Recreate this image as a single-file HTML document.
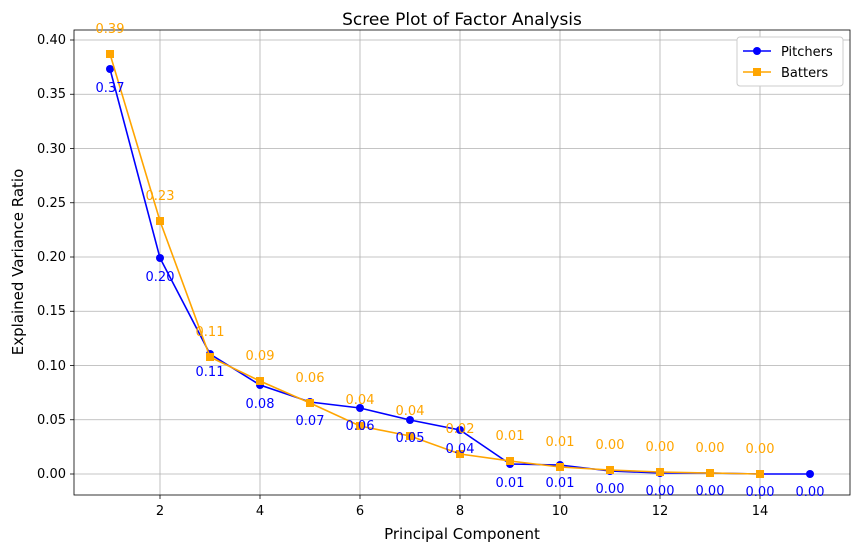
<!DOCTYPE html>
<html><head><meta charset="utf-8"><style>body{margin:0;background:#fff}svg{font-family:"DejaVu Sans","Liberation Sans",sans-serif}</style></head>
<body>
<svg width="859" height="552" xmlns="http://www.w3.org/2000/svg">
<rect width="859" height="552" fill="#fff"/>
<g stroke="#b0b0b0" stroke-width="0.8">
<line x1="160" y1="30" x2="160" y2="495"/><line x1="260" y1="30" x2="260" y2="495"/><line x1="360" y1="30" x2="360" y2="495"/><line x1="460" y1="30" x2="460" y2="495"/><line x1="560" y1="30" x2="560" y2="495"/><line x1="660" y1="30" x2="660" y2="495"/><line x1="760" y1="30" x2="760" y2="495"/>
<line x1="74" y1="474" x2="850" y2="474"/><line x1="74" y1="419.75" x2="850" y2="419.75"/><line x1="74" y1="365.5" x2="850" y2="365.5"/><line x1="74" y1="311.25" x2="850" y2="311.25"/><line x1="74" y1="257" x2="850" y2="257"/><line x1="74" y1="202.75" x2="850" y2="202.75"/><line x1="74" y1="148.5" x2="850" y2="148.5"/><line x1="74" y1="94.25" x2="850" y2="94.25"/><line x1="74" y1="40" x2="850" y2="40"/>
</g>
<rect x="74" y="30" width="776" height="465" fill="none" stroke="#000" stroke-width="0.8"/>
<g stroke="#000" stroke-width="0.8">
<line x1="160" y1="495" x2="160" y2="499"/><line x1="260" y1="495" x2="260" y2="499"/><line x1="360" y1="495" x2="360" y2="499"/><line x1="460" y1="495" x2="460" y2="499"/><line x1="560" y1="495" x2="560" y2="499"/><line x1="660" y1="495" x2="660" y2="499"/><line x1="760" y1="495" x2="760" y2="499"/>
<line x1="70" y1="474" x2="74" y2="474"/><line x1="70" y1="419.75" x2="74" y2="419.75"/><line x1="70" y1="365.5" x2="74" y2="365.5"/><line x1="70" y1="311.25" x2="74" y2="311.25"/><line x1="70" y1="257" x2="74" y2="257"/><line x1="70" y1="202.75" x2="74" y2="202.75"/><line x1="70" y1="148.5" x2="74" y2="148.5"/><line x1="70" y1="94.25" x2="74" y2="94.25"/><line x1="70" y1="40" x2="74" y2="40"/>
</g>
<g font-size="13" fill="#000" text-anchor="middle">
<text x="160" y="515">2</text><text x="260" y="515">4</text><text x="360" y="515">6</text><text x="460" y="515">8</text><text x="560" y="515">10</text><text x="660" y="515">12</text><text x="760" y="515">14</text>
</g>
<g font-size="13" fill="#000" text-anchor="end">
<text x="66" y="478">0.00</text><text x="66" y="424">0.05</text><text x="66" y="370">0.10</text><text x="66" y="315">0.15</text><text x="66" y="261">0.20</text><text x="66" y="207">0.25</text><text x="66" y="153">0.30</text><text x="66" y="98">0.35</text><text x="66" y="44">0.40</text>
</g>
<text x="462" y="25" font-size="17" text-anchor="middle">Scree Plot of Factor Analysis</text>
<text x="462" y="539" font-size="15" text-anchor="middle">Principal Component</text>
<text transform="translate(23,262) rotate(-90)" font-size="15" text-anchor="middle">Explained Variance Ratio</text>
<polyline fill="none" stroke="#0000ff" stroke-width="1.6" points="110,69 160,258 210,354 260,385 310,402 360,408 410,420 460,430 510,464 560,465 610,471 660,473 710,473 760,474 810,474"/>
<g fill="#0000ff"><circle cx="110" cy="69" r="4"/><circle cx="160" cy="258" r="4"/><circle cx="210" cy="354" r="4"/><circle cx="260" cy="385" r="4"/><circle cx="310" cy="402" r="4"/><circle cx="360" cy="408" r="4"/><circle cx="410" cy="420" r="4"/><circle cx="460" cy="430" r="4"/><circle cx="510" cy="464" r="4"/><circle cx="560" cy="465" r="4"/><circle cx="610" cy="471" r="4"/><circle cx="660" cy="473" r="4"/><circle cx="710" cy="473" r="4"/><circle cx="760" cy="474" r="4"/><circle cx="810" cy="474" r="4"/></g>
<polyline fill="none" stroke="#ffa500" stroke-width="1.6" points="110,54 160,221 210,357 260,381 310,403 360,426 410,436 460,454 510,461 560,467 610,470 660,472 710,473 760,474"/>
<g fill="#ffa500"><rect x="106" y="50" width="8" height="8"/><rect x="156" y="217" width="8" height="8"/><rect x="206" y="353" width="8" height="8"/><rect x="256" y="377" width="8" height="8"/><rect x="306" y="399" width="8" height="8"/><rect x="356" y="422" width="8" height="8"/><rect x="406" y="432" width="8" height="8"/><rect x="456" y="450" width="8" height="8"/><rect x="506" y="457" width="8" height="8"/><rect x="556" y="463" width="8" height="8"/><rect x="606" y="466" width="8" height="8"/><rect x="656" y="468" width="8" height="8"/><rect x="706" y="469" width="8" height="8"/><rect x="756" y="470" width="8" height="8"/></g>
<g font-size="13" fill="#0000ff" text-anchor="middle">
<text x="110" y="92">0.37</text><text x="160" y="281">0.20</text><text x="210" y="376">0.11</text><text x="260" y="408">0.08</text><text x="310" y="425">0.07</text><text x="360" y="430">0.06</text><text x="410" y="442">0.05</text><text x="460" y="453">0.04</text><text x="510" y="487">0.01</text><text x="560" y="487">0.01</text><text x="610" y="493">0.00</text><text x="660" y="495">0.00</text><text x="710" y="495">0.00</text><text x="760" y="496">0.00</text><text x="810" y="496">0.00</text>
</g>
<g font-size="13" fill="#ffa500" text-anchor="middle">
<text x="110" y="33">0.39</text><text x="160" y="200">0.23</text><text x="210" y="336">0.11</text><text x="260" y="360">0.09</text><text x="310" y="382">0.06</text><text x="360" y="404">0.04</text><text x="410" y="415">0.04</text><text x="460" y="433">0.02</text><text x="510" y="440">0.01</text><text x="560" y="446">0.01</text><text x="610" y="449">0.00</text><text x="660" y="451">0.00</text><text x="710" y="452">0.00</text><text x="760" y="453">0.00</text>
</g>
<rect x="737" y="37" width="106" height="49" rx="3" fill="#fff" stroke="#ccc"/>
<line x1="743" y1="51" x2="771" y2="51" stroke="#0000ff" stroke-width="1.6"/><circle cx="757" cy="51" r="4" fill="#0000ff"/>
<text x="781" y="56" font-size="13">Pitchers</text>
<line x1="743" y1="72" x2="771" y2="72" stroke="#ffa500" stroke-width="1.6"/><rect x="753" y="68" width="8" height="8" fill="#ffa500"/>
<text x="781" y="77" font-size="13">Batters</text>
</svg>
</body></html>
